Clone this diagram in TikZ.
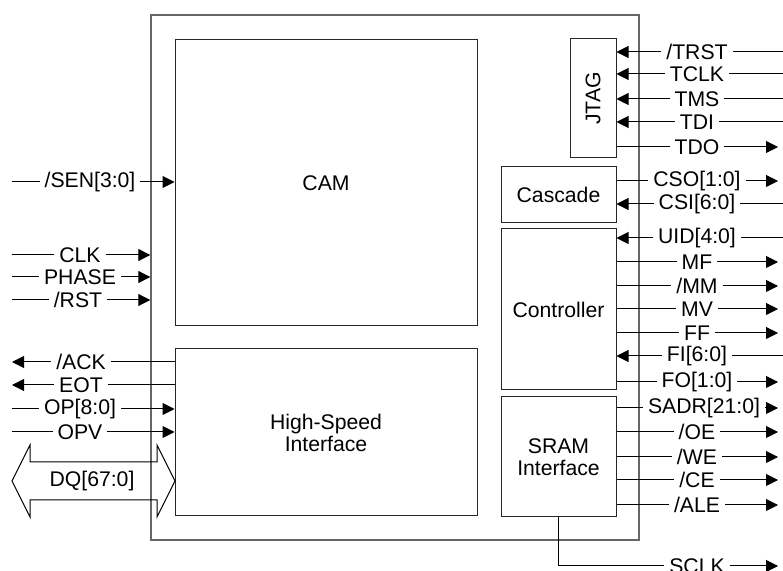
\documentclass[tikz,border=0pt]{standalone}
\usepackage{fontspec}
\setmainfont{Liberation Sans}
\usetikzlibrary{arrows.meta}
\newcommand{\pxl}{0.5pt}

\begin{document}
\begin{tikzpicture}[
    x=0.5pt, y=-0.5pt,
    >={Triangle[length=6pt,width=6pt]},
    font=\fontsize{10.6}{11}\selectfont,
    lw/.style={line width=0.5pt},
    chip/.style={draw=black!60, line width=0.7pt, inner sep=0pt},
    block/.style={draw=black!85, lw, fill=white, align=center, inner sep=0pt},
    lbl/.style={fill=white, inner xsep=2.5pt, inner ysep=0pt},
    sigin/.style={lw, <-},
    sigout/.style={lw, ->}
]
\useasboundingbox (0,0) rectangle (783,571);

% --- Device outline and blocks ---
\node[chip, minimum width=488*\pxl, minimum height=525*\pxl] (chip) at (395,277.5) {};

\node[block, minimum width=302*\pxl, minimum height=286*\pxl] (cam) at (326,183) {CAM};
\node[block, minimum width=302*\pxl, minimum height=167*\pxl] (hsi) at (326,432.5)
{High-Speed\\Interface};

\node[block, minimum width=46*\pxl, minimum height=119*\pxl] (jtag) at (593,98.5) {};
\node[rotate=90] (jtaglbl) at (jtag.center) {JTAG};
\node[block, minimum width=115*\pxl, minimum height=56*\pxl] (casc) at (558.5,195) {Cascade};
\node[block, minimum width=115*\pxl, minimum height=161*\pxl] (ctrl) at (558.5,309.5) {Controller};
\node[block, minimum width=115*\pxl, minimum height=120*\pxl] (sram) at (558.5,457)
{SRAM\\Interface};

% --- Right side signals ---
\foreach \y/\txt/\src in {52/{/TRST}/jtag, 74/TCLK/jtag, 99/TMS/jtag, 122/TDI/jtag,
    204/{CSI[6:0]}/casc, 238/{UID[4:0]}/ctrl, 356/{FI[6:0]}/ctrl}{
    \draw[sigin] (\src.east |- 0,\y) -- (783,\y);
    \node[lbl] (r\y) at (697,\y) {\txt};
}
\foreach \y/\txt/\src/\lx in {147/TDO/jtag/697, 181/{CSO[1:0]}/casc/697, 262/MF/ctrl/697,
    286/{/MM}/ctrl/697, 309/MV/ctrl/697, 333/FF/ctrl/697, 382/{FO[1:0]}/ctrl/697,
    408/{SADR[21:0]}/sram/704, 432/{/OE}/sram/697, 457/{/WE}/sram/697,
    480/{/CE}/sram/697, 505/{/ALE}/sram/697}{
    \draw[sigout] (\src.east |- 0,\y) -- (778,\y);
    \node[lbl] (r\y) at (\lx,\y) {\txt};
}

% --- SRAM clock ---
\coordinate (sclkend) at (778,566);
\draw[sigout] (sram.south) |- (sclkend);
\node[lbl] (sclk) at (697,566) {SCLK};

% --- Left side signals ---
\foreach \y/\txt/\dst/\lx in {182/{/SEN[3:0]}/cam/90, 255/CLK/chip/80, 277/PHASE/chip/80,
    300/{/RST}/chip/78, 409/{OP[8:0]}/hsi/80, 432/OPV/hsi/80}{
    \draw[sigout] (12,\y) -- (\dst.west |- 0,\y);
    \node[lbl] (l\y) at (\lx,\y) {\txt};
}
\foreach \y/\txt in {362/{/ACK}, 385/EOT}{
    \draw[sigout] (hsi.west |- 0,\y) -- (12,\y);
    \node[lbl] (l\y) at (81,\y) {\txt};
}

% --- Data bus ---
\draw[lw, line join=miter] (12,481) -- (30,445) -- (30,462) -- (157,462) -- (157,445)
    -- (175,481) -- (157,517) -- (157,500) -- (30,500) -- (30,517) -- cycle;
\node (dq) at (92,481) {DQ[67:0]};

\end{tikzpicture}
\end{document}
